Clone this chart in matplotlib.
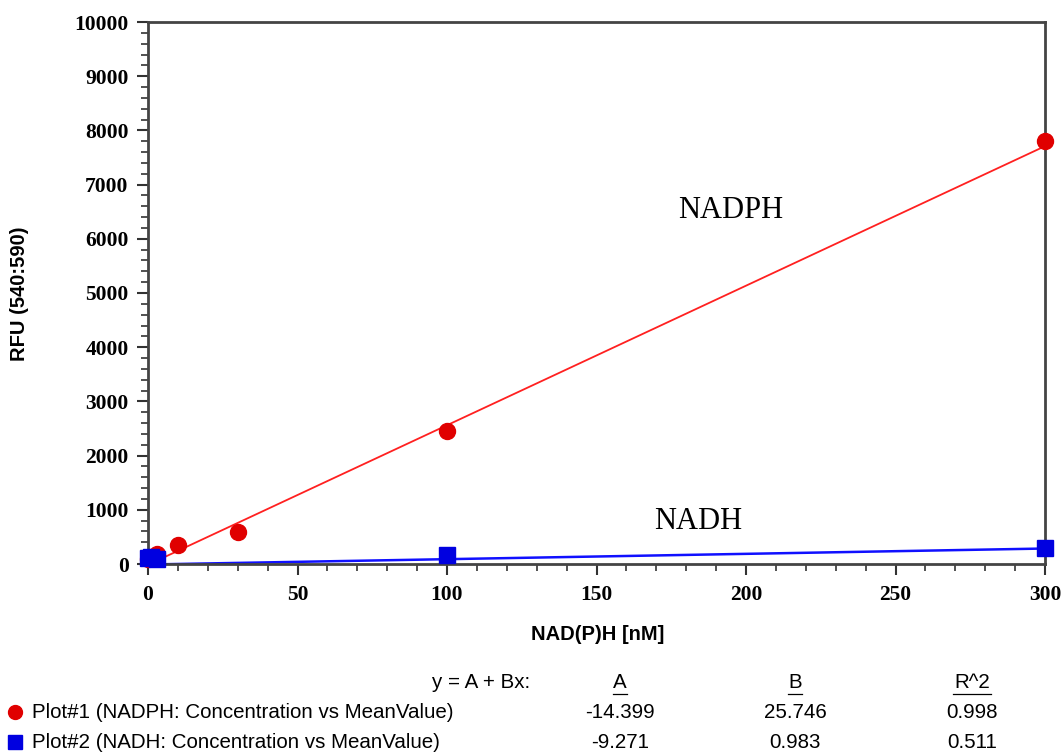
"""
plot.py - NAD(P)H standard curve (RFU vs concentration) with fit table
"""

import numpy as np
import matplotlib
matplotlib.use("Agg")
import matplotlib.pyplot as plt
from matplotlib.ticker import MultipleLocator

# concentrations [nM]
nadph_conc = [0, 1, 3, 10, 30, 100, 300]
nadh_conc = [0, 1, 3, 100, 300]

# mean RFU values
nadph_rfu = [95, 130, 185, 350, 590, 2454, 7804]
nadh_rfu = [105, 120, 95, 166, 295]

# linear fit parameters y = A + Bx
fit_names = ["Plot#1 (NADPH: Concentration vs MeanValue)",
             "Plot#2 (NADH: Concentration vs MeanValue)"]
fit_A = [-14.399, -9.271]
fit_B = [25.746, 0.983]
fit_R2 = [0.998, 0.511]

RED = "#e00000"
BLUE = "#0000e0"
W, H = 1063.0, 753.0

fig = plt.figure(figsize=(10.63, 7.53), dpi=100)
ax = fig.add_axes([148 / W, 1 - 564 / H, 897 / W, 542 / H])

# fitted lines
xs = np.linspace(0, 300, 50)
ax.plot(xs, fit_A[0] + fit_B[0] * xs, color="#ff2020", lw=1.3, zorder=2)
ax.plot(xs, fit_A[1] + fit_B[1] * xs, color="#1010ff", lw=1.8, zorder=2)

# data points
ax.plot(nadph_conc, nadph_rfu, "o", color=RED, ms=11.5, mec=RED, zorder=3, clip_on=False)
ax.plot(nadh_conc, nadh_rfu, "s", color=BLUE, ms=11.5, mec=BLUE, zorder=4, clip_on=False)

ax.set_xlim(0, 300)
ax.set_ylim(0, 10000)
ax.xaxis.set_major_locator(MultipleLocator(50))
ax.xaxis.set_minor_locator(MultipleLocator(10))
ax.yaxis.set_major_locator(MultipleLocator(1000))
ax.yaxis.set_minor_locator(MultipleLocator(200))
ax.tick_params(which="major", direction="out", length=8, width=1.5, color="#333333")
ax.tick_params(which="minor", direction="out", length=5, width=1.2, color="#333333")
ax.tick_params(axis="y", which="major", pad=6)
ax.tick_params(axis="x", which="major", pad=7)
for sp in ax.spines.values():
    sp.set_linewidth(2)
    sp.set_color("#444444")

for lab in ax.get_xticklabels() + ax.get_yticklabels():
    lab.set_fontfamily("Liberation Serif")
    lab.set_fontweight("bold")
    lab.set_fontsize(15.5)

# axis titles, placed in figure pixels
fig.text(598 / W, 1 - 635 / H, "NAD(P)H [nM]", fontfamily="Liberation Sans",
         fontweight="bold", fontsize=14.5, ha="center", va="center")
fig.text(20 / W, 1 - 294 / H, "RFU (540:590)", fontfamily="Liberation Sans",
         fontweight="bold", fontsize=14.5, ha="center", va="center", rotation=90)

# curve labels
ax.text(195, 6530, "NADPH", fontfamily="Liberation Serif", fontsize=22, ha="center", va="center")
ax.text(184, 790, "NADH", fontfamily="Liberation Serif", fontsize=22, ha="center", va="center")

# fit table under the chart
tf = dict(fontfamily="Liberation Sans", fontsize=14.8, va="center")
fig.text(530 / W, 1 - 683 / H, "y = A + Bx:", ha="right", **tf)
col_x = [620, 795, 972]
for cx, head in zip(col_x, ["A", "B", "R^2"]):
    fig.text(cx / W, 1 - 683 / H, head, ha="center", **tf)
    # underline the column header
    half = 7 + 6 * (len(head) - 1)
    fig.add_artist(plt.Line2D([(cx - half) / W, (cx + half) / W],
                              [1 - 694 / H, 1 - 694 / H], color="black", lw=0.9))

row_y = [712, 742]
markers = [("o", RED), ("s", BLUE)]
for i in range(2):
    yy = 1 - row_y[i] / H
    mk, col = markers[i]
    fig.add_artist(plt.Line2D([15 / W], [yy], marker=mk, color=col, ms=10, mec=col))
    fig.text(32 / W, yy, fit_names[i], ha="left", **tf)
    fig.text(col_x[0] / W, yy, f"{fit_A[i]:.3f}", ha="center", **tf)
    fig.text(col_x[1] / W, yy, f"{fit_B[i]:.3f}", ha="center", **tf)
    fig.text(col_x[2] / W, yy, f"{fit_R2[i]:.3f}", ha="center", **tf)

fig.savefig("out.png", dpi=100)
